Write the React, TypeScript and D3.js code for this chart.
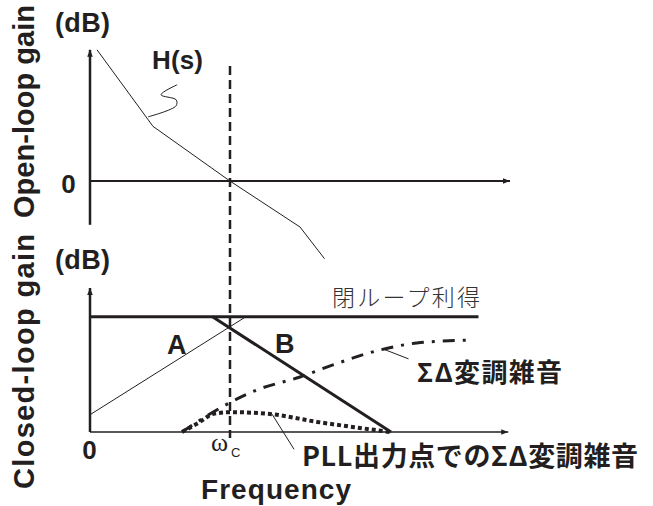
import React from "react";
import * as d3 from "d3";

// Open-loop transfer function H(s): asymptotic Bode gain (dB) vs frequency
const openLoopFreq = [0.2, 1.8, 4, 6, 6.7];
const openLoopGain = [120, 50, 0, -42, -71];

// Crossover frequency ωc
const omegaC = 4;

// Closed-loop gain (flat) and the two asymptotes A / B
const closedLoopFreq = [0, 11.1];
const closedLoopGain = [0, 0];
const lineAFreq = [0, 4.45];
const lineAGain = [-34, 0];
const lineBFreq = [3.5, 8.6];
const lineBGain = [0, -40];

// ΣΔ modulator noise
const sdNoiseFreq = [2.63, 3.77, 4.77, 6.0, 6.94, 8.29, 9.34, 10.8];
const sdNoiseGain = [-40, -31.3, -25.4, -20.9, -16.7, -11.5, -9.1, -8.1];

// ΣΔ noise seen at the PLL output
const pllNoiseFreq = [2.63, 3.14, 3.51, 4, 5.14, 6.49, 7.71, 8.57];
const pllNoiseGain = [-40, -36.5, -33.75, -33.1, -33.75, -36.5, -38.6, -40];

// Leader for the H(s) label (wavy stroke)
const hLeaderFreq = [1.66, 2.46, 2.46, 2.03, 2.49];
const hLeaderGain = [58.7, 68.8, 74.3, 78.9, 88.0];

const W = 653;
const H = 506;
const ink = "#231f20";

const x = d3.scaleLinear().domain([0, 12]).range([90, 510]);
const yTop = d3.scaleLinear().domain([-40, 120]).range([224.8, 49.8]);
const yBot = d3.scaleLinear().domain([-40, 10]).range([432, 288]);

const zip = (xs: number[], ys: number[]) => xs.map((v, i) => [v, ys[i]] as [number, number]);

const topLine = d3
  .line<[number, number]>()
  .x((d) => x(d[0]))
  .y((d) => yTop(d[1]));
const botLine = d3
  .line<[number, number]>()
  .x((d) => x(d[0]))
  .y((d) => yBot(d[1]));
const botCurve = d3
  .line<[number, number]>()
  .x((d) => x(d[0]))
  .y((d) => yBot(d[1]))
  .curve(d3.curveMonotoneX);
const squiggle = d3
  .line<[number, number]>()
  .x((d) => x(d[0]))
  .y((d) => yTop(d[1]))
  .curve(d3.curveCatmullRom.alpha(0.5));

const latin = "'Liberation Sans', Arial, sans-serif";
const cjk = "'Noto Sans CJK JP', 'Noto Sans', sans-serif";

export default function App() {
  const x0 = x(0);
  const xEnd = x(12);
  const xc = x(omegaC);
  const yZeroTop = yTop(0);
  const yAxisBot = yBot(-40);

  return (
    <div style={{ position: "absolute", left: 0, top: 0 }}>
      <svg width={W} height={H} viewBox={`0 0 ${W} ${H}`} style={{ display: "block", background: "#fff" }}>
        <defs>
          <marker id="arrow" viewBox="0 0 10 10" refX="10" refY="5" markerWidth="7" markerHeight="7" markerUnits="userSpaceOnUse" orient="auto">
            <path d="M0,1 L10,5 L0,9 Z" fill={ink} />
          </marker>
        </defs>

        {/* Vertical axis titles */}
        <text
          transform={`translate(34, ${(218 + 5) / 2}) rotate(-90)`}
          textAnchor="middle"
          fontFamily={latin}
          fontWeight="bold"
          fontSize={29}
          fill={ink}
          textLength={213}
          lengthAdjust="spacing"
        >
          Open-loop gain
        </text>
        <text
          transform={`translate(34, ${(490 + 233) / 2}) rotate(-90)`}
          textAnchor="middle"
          fontFamily={latin}
          fontWeight="bold"
          fontSize={29}
          fill={ink}
          textLength={255}
          lengthAdjust="spacing"
        >
          Closed-loop gain
        </text>

        {/* ===== Open-loop panel ===== */}
        <text x={55} y={32} fontFamily={latin} fontWeight="bold" fontSize={27} fill={ink} textLength={55} lengthAdjust="spacing">
          (dB)
        </text>
        <line x1={x0} x2={x0} y1={yTop(-40)} y2={yTop(120)} stroke={ink} strokeWidth={2.5} markerEnd="url(#arrow)" />
        <line x1={x0} x2={xEnd} y1={yZeroTop} y2={yZeroTop} stroke={ink} strokeWidth={2} markerEnd="url(#arrow)" />
        <text x={68.5} y={193} textAnchor="middle" fontFamily={latin} fontWeight="bold" fontSize={26} fill={ink}>
          0
        </text>
        <path d={topLine(zip(openLoopFreq, openLoopGain)) ?? ""} fill="none" stroke={ink} strokeWidth={1} />
        <path d={squiggle(zip(hLeaderFreq, hLeaderGain)) ?? ""} fill="none" stroke={ink} strokeWidth={1} />
        <text x={152} y={69} fontFamily={latin} fontWeight="bold" fontSize={26} fill={ink} textLength={51} lengthAdjust="spacing">
          H(s)
        </text>

        {/* ωc marker spanning both panels */}
        <line x1={xc} x2={xc} y1={66} y2={438} stroke={ink} strokeWidth={2.5} strokeDasharray="9 5" />

        {/* ===== Closed-loop panel ===== */}
        <text x={55} y={269} fontFamily={latin} fontWeight="bold" fontSize={27} fill={ink} textLength={55} lengthAdjust="spacing">
          (dB)
        </text>
        <line x1={x0} x2={x0} y1={yAxisBot} y2={yBot(10)} stroke={ink} strokeWidth={2.5} markerEnd="url(#arrow)" />
        <line x1={x0} x2={x(11.95)} y1={yAxisBot} y2={yAxisBot} stroke={ink} strokeWidth={1.5} markerEnd="url(#arrow)" />

        <path d={botLine(zip(closedLoopFreq, closedLoopGain)) ?? ""} fill="none" stroke={ink} strokeWidth={3} />
        <path d={botLine(zip(lineAFreq, lineAGain)) ?? ""} fill="none" stroke={ink} strokeWidth={1} />
        <path d={botLine(zip(lineBFreq, lineBGain)) ?? ""} fill="none" stroke={ink} strokeWidth={3} />
        <path
          d={botCurve(zip(sdNoiseFreq, sdNoiseGain)) ?? ""}
          fill="none"
          stroke={ink}
          strokeWidth={3}
          strokeDasharray="12 8 3 8"
        />
        <path
          d={botCurve(zip(pllNoiseFreq, pllNoiseGain)) ?? ""}
          fill="none"
          stroke={ink}
          strokeWidth={4}
          strokeDasharray="4 3"
        />

        {/* leaders */}
        <line x1={x(8.4)} y1={yBot(-11.3)} x2={x(9.1)} y2={yBot(-14.6)} stroke={ink} strokeWidth={1} />
        <line x1={x(5.2)} y1={yBot(-33.8)} x2={x(5.83)} y2={yBot(-46)} stroke={ink} strokeWidth={1} />

        <text x={167} y={354} fontFamily={latin} fontWeight="bold" fontSize={27} fill={ink}>
          A
        </text>
        <text x={275} y={353} fontFamily={latin} fontWeight="bold" fontSize={27} fill={ink}>
          B
        </text>

        <text x={332} y={306} fontFamily={cjk} fontWeight={300} fontSize={23} fill="#333" textLength={148} lengthAdjust="spacing">
          閉ループ利得
        </text>
        <text x={417} y={382} fontFamily={cjk} fontWeight="bold" fontSize={26} fill={ink} textLength={145} lengthAdjust="spacing">
          ΣΔ変調雑音
        </text>
        <text x={302} y={466} fontFamily={cjk} fontWeight="bold" fontSize={27} fill={ink} textLength={336} lengthAdjust="spacing">
          PLL出力点でのΣΔ変調雑音
        </text>

        {/* frequency-axis labels */}
        <text x={89.5} y={459} textAnchor="middle" fontFamily={latin} fontWeight="bold" fontSize={26} fill={ink}>
          0
        </text>
        <text x={211} y={451} fontFamily="'Liberation Serif', serif" fontSize={26} fill={ink}>
          ω
        </text>
        <text x={231} y={457} fontFamily={latin} fontSize={13} fill={ink}>
          C
        </text>
        <text x={201} y={499} fontFamily={latin} fontWeight="bold" fontSize={28} fill={ink} textLength={150} lengthAdjust="spacing">
          Frequency
        </text>
      </svg>
    </div>
  );
}
